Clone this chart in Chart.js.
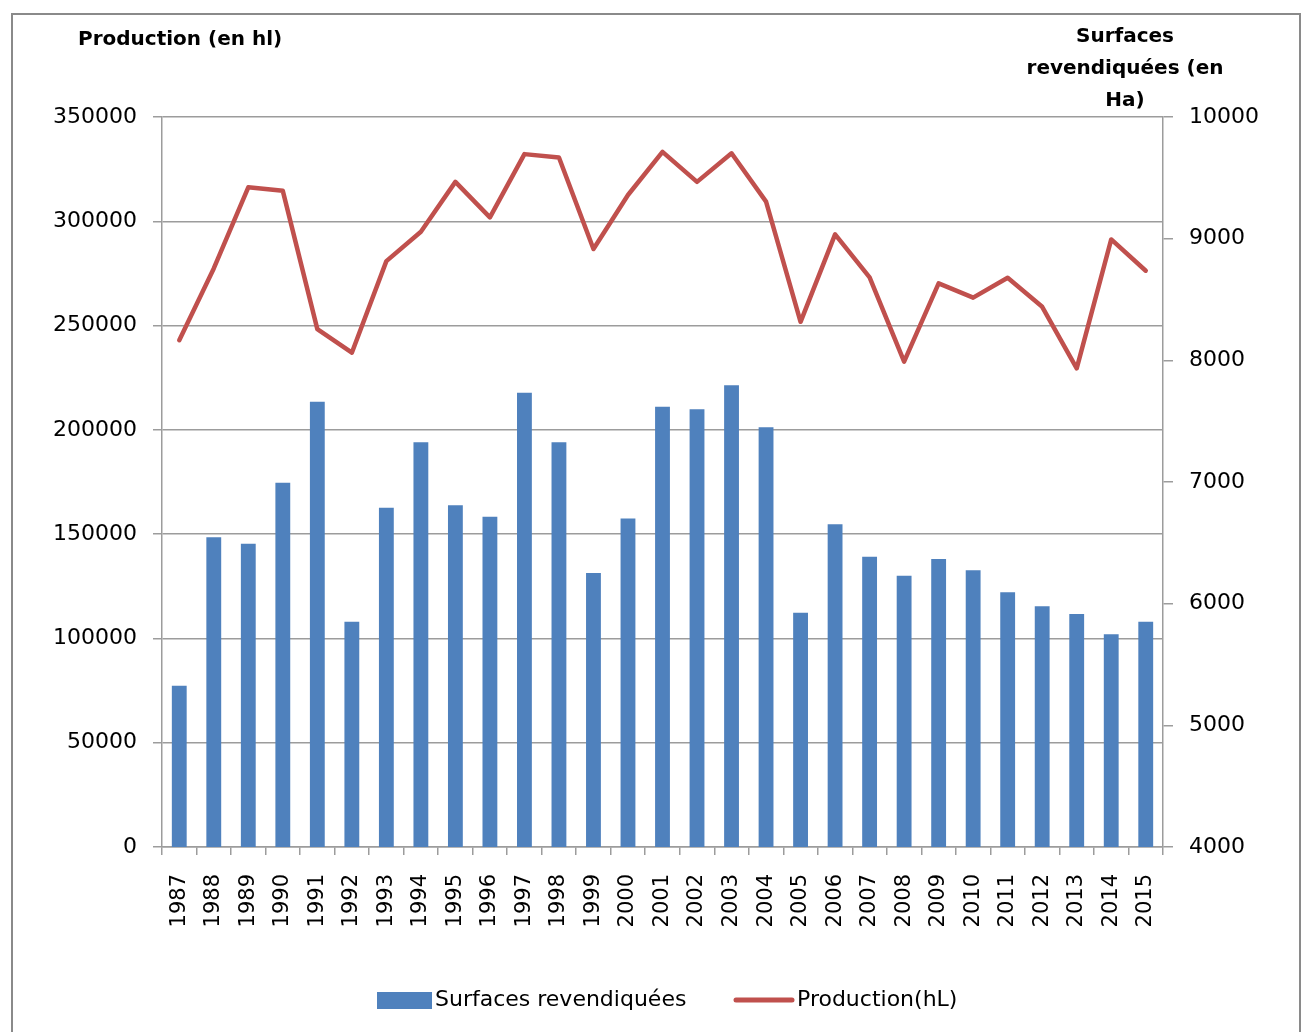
<!DOCTYPE html>
<html lang="fr">
<head>
<meta charset="utf-8">
<title>Production et surfaces revendiquées</title>
<script src="https://cdn.jsdelivr.net/npm/chart.js@4.4.1/dist/chart.umd.min.js"></script>
<style>
    html, body { margin: 0; padding: 0; background: #fff; }
    #wrap { position: relative; width: 1307px; height: 1032px; overflow: hidden; }
    #frame {
        position: absolute; left: 11px; top: 13px; width: 1286px; height: 1040px;
        border: 2px solid #8a8a8a; pointer-events: none;
    }
    canvas { position: absolute; left: 0; top: 0; }
</style>
</head>
<body>
<div id="wrap">
    <canvas id="prodChart" width="1307" height="1032"></canvas>
    <div id="frame"></div>
</div>
<script>
const years = ['1987', '1988', '1989', '1990', '1991', '1992', '1993', '1994', '1995', '1996',
    '1997', '1998', '1999', '2000', '2001', '2002', '2003', '2004', '2005', '2006',
    '2007', '2008', '2009', '2010', '2011', '2012', '2013', '2014', '2015'];

// surfaces revendiquées, en ha (axe de droite)
const surfaces = [5326, 6545, 6493, 6994, 7660, 5852, 6789, 7326, 6808, 6715,
    7734, 7326, 6252, 6701, 7619, 7597, 7795, 7449, 5926, 6652,
    6386, 6230, 6367, 6274, 6093, 5978, 5915, 5748, 5852];

// production, en hl (axe de gauche)
const production = [243000, 277400, 316300, 314600, 248300, 237000, 280900, 295000, 318900, 301900,
    332200, 330600, 286700, 312600, 333300, 318900, 332600, 309400, 251800, 293700,
    273100, 232700, 270200, 263400, 272900, 259000, 229500, 291300, 276300];

const prodTicks = { min: 0, max: 350000, step: 50000 };
const surfTicks = { min: 4000, max: 10000, step: 1000 };

const leftTitle = 'Production (en hl)';
const rightTitle = ['Surfaces', 'revendiquées (en', 'Ha)'];

document.addEventListener('DOMContentLoaded', function() {
    const fontFamily = "'DejaVu Sans', sans-serif";
    const gridColor = '#9c9c9c';
    Chart.defaults.font.family = fontFamily;
    Chart.defaults.color = '#000';

    // plain numbers, no thousands separator
    const plain = function(value) { return String(value); };

    // axis titles and legend, drawn the way Excel laid them out
    const extras = {
        id: 'extras',
        afterDraw(chart) {
            const ctx = chart.ctx;
            const ds = chart.data.datasets;
            ctx.save();
            ctx.fillStyle = '#000';
            ctx.textBaseline = 'middle';
            ctx.font = "bold 20px " + fontFamily;
            ctx.textAlign = 'left';
            ctx.fillText(leftTitle, 78, 40);
            ctx.textAlign = 'center';
            rightTitle.forEach(function(line, i) {
                ctx.fillText(line, 1125, 37 + i * 32);
            });

            // legend
            ctx.font = "22px " + fontFamily;
            ctx.textAlign = 'left';
            ctx.fillStyle = ds[0].backgroundColor;
            ctx.fillRect(377, 992, 55, 17);
            ctx.fillStyle = '#000';
            ctx.fillText(ds[0].label, 435, 1000);
            ctx.strokeStyle = ds[1].borderColor;
            ctx.lineWidth = 5;
            ctx.lineCap = 'round';
            ctx.beginPath();
            ctx.moveTo(736, 1000);
            ctx.lineTo(792, 1000);
            ctx.stroke();
            ctx.fillText(ds[1].label, 797, 1000);
            ctx.restore();
        }
    };

    const ctxProd = document.getElementById('prodChart').getContext('2d');
    new Chart(ctxProd, {
        type: 'bar',
        data: {
            labels: years,
            datasets: [{
                type: 'bar',
                label: 'Surfaces revendiquées',
                data: surfaces,
                yAxisID: 'y1',
                backgroundColor: '#4F81BD',
                borderWidth: 0,
                barPercentage: 0.43,
                categoryPercentage: 1,
                order: 2
            }, {
                type: 'line',
                label: 'Production(hL)',
                data: production,
                yAxisID: 'y',
                borderColor: '#C0504D',
                backgroundColor: '#C0504D',
                borderWidth: 4.5,
                borderJoinStyle: 'round',
                borderCapStyle: 'round',
                pointRadius: 0,
                tension: 0,
                fill: false,
                order: 1
            }]
        },
        options: {
            responsive: false,
            animation: false,
            layout: { padding: { top: 117, left: 0, right: 0, bottom: 0 } },
            plugins: {
                legend: { display: false },
                tooltip: { enabled: false }
            },
            scales: {
                x: {
                    offset: true,
                    grid: { offset: true, drawOnChartArea: false, color: gridColor, tickLength: 8, lineWidth: 1.5 },
                    border: { color: gridColor, width: 1.5 },
                    ticks: { font: { size: 21 }, minRotation: 90, maxRotation: 90, autoSkip: false, padding: 19 },
                    afterFit: function(scale) { scale.height = 185; }
                },
                y: {
                    position: 'left',
                    min: prodTicks.min,
                    max: prodTicks.max,
                    grid: { color: gridColor, tickLength: 9, lineWidth: 1.5 },
                    border: { color: gridColor, width: 1.5 },
                    ticks: { stepSize: prodTicks.step, font: { size: 22 }, padding: 16, callback: plain },
                    afterFit: function(scale) { scale.width = 162; }
                },
                y1: {
                    position: 'right',
                    min: surfTicks.min,
                    max: surfTicks.max,
                    grid: { drawOnChartArea: false, color: gridColor, tickLength: 10, lineWidth: 1.5 },
                    border: { color: gridColor, width: 1.5 },
                    ticks: { stepSize: surfTicks.step, font: { size: 22 }, padding: 16, callback: plain },
                    afterFit: function(scale) { scale.width = 144; }
                }
            }
        },
        plugins: [extras]
    });
});
</script>
</body>
</html>
